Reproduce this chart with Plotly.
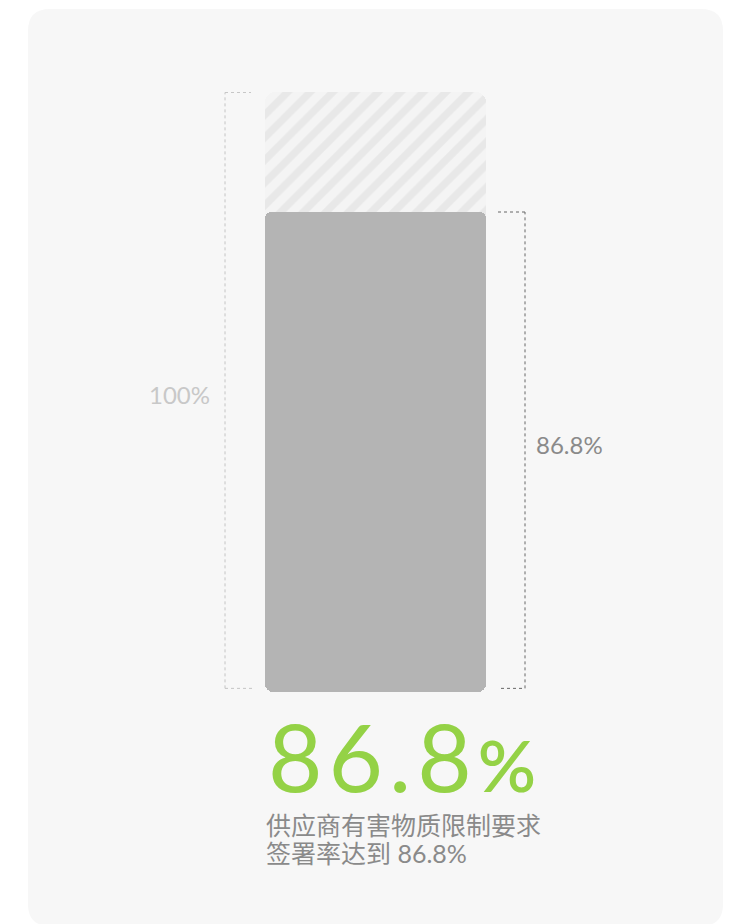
import plotly.graph_objects as go

# ---- data ----
categories = ["签署率"]
total_values = [100.0]
actual_values = [86.8]
axis_min = 34.0          # visual baseline of the (truncated) value axis
axis_max = 100.0
total_label = "100%"
actual_label = "86.8%"
big_number = "86.8"
caption_lines = ["供应商有害物质限制要求", "签署率达到 86.8%"]

W, H = 734, 924
ML, MR, MT, MB = 265, 248, 92, 232
PW, PH = W - ML - MR, H - MT - MB

def px(x):
    return (x - ML) / PW

def py(y):
    return (H - MB - y) / PH

LATIN = "Lato, 'Noto Sans CJK SC', sans-serif"
CJK = "Lato, 'Noto Sans CJK SC', sans-serif"

fig = go.Figure()

# hatched "100%" bar
fig.add_trace(go.Bar(
    x=categories, y=[v - axis_min for v in total_values], base=[axis_min],
    marker=dict(color="#f4f4f4", cornerradius=10, line=dict(width=0),
                pattern=dict(shape="/", size=16, solidity=0.45,
                             fgcolor="#e8e8e8", bgcolor="#f4f4f4", fillmode="replace")),
    hoverinfo="skip", showlegend=False))

# solid bar, drawn as two overlapping halves so both ends get rounded corners
overlap = 3.0
mid = [(axis_min + v) / 2 for v in actual_values]
fig.add_trace(go.Bar(
    x=categories, y=[v - (m - overlap) for v, m in zip(actual_values, mid)],
    base=[m - overlap for m in mid],
    marker=dict(color="#b4b4b4", cornerradius=6, line=dict(width=0)),
    hoverinfo="skip", showlegend=False))
fig.add_trace(go.Bar(
    x=categories, y=[axis_min - (m + overlap) for m in mid],
    base=[m + overlap for m in mid],
    marker=dict(color="#b4b4b4", cornerradius=8, line=dict(width=0)),
    hoverinfo="skip", showlegend=False))

shapes = []
# panel background (rounded rect)
x0, x1, y0, y1, r = 28, 723, 9, 926, 22
path = (f"M {px(x0+r)},{py(y0)} L {px(x1-r)},{py(y0)} Q {px(x1)},{py(y0)} {px(x1)},{py(y0+r)} "
        f"L {px(x1)},{py(y1-r)} Q {px(x1)},{py(y1)} {px(x1-r)},{py(y1)} "
        f"L {px(x0+r)},{py(y1)} Q {px(x0)},{py(y1)} {px(x0)},{py(y1-r)} "
        f"L {px(x0)},{py(y0+r)} Q {px(x0)},{py(y0)} {px(x0+r)},{py(y0)} Z")
shapes.append(dict(type="path", path=path, xref="paper", yref="paper",
                   fillcolor="#f7f7f7", line=dict(width=0), layer="below"))

# left bracket (100%)
lc = dict(color="#c4c4c4", width=1, dash="dot")
lx, lx2 = px(225), px(251)
top = total_values[0] - 0.05
shapes += [
    dict(type="line", xref="paper", yref="y", x0=lx, x1=lx, y0=axis_min + 0.4, y1=top, line=lc),
    dict(type="line", xref="paper", yref="y", x0=lx, x1=lx2, y0=top, y1=top, line=lc),
    dict(type="line", xref="paper", yref="y", x0=lx, x1=px(254), y0=axis_min + 0.4, y1=axis_min + 0.4, line=lc),
]
# right bracket (86.8%)
rc = dict(color="#666666", width=1, dash="dot")
rx, rx2 = px(525), px(498)
shapes += [
    dict(type="line", xref="paper", yref="y", x0=rx, x1=rx, y0=axis_min + 0.4, y1=actual_values[0], line=rc),
    dict(type="line", xref="paper", yref="y", x0=rx2, x1=rx, y0=actual_values[0], y1=actual_values[0], line=rc),
    dict(type="line", xref="paper", yref="y", x0=px(501), x1=rx, y0=axis_min + 0.4, y1=axis_min + 0.4, line=rc),
]

annotations = [
    dict(text=total_label, xref="paper", yref="y", x=px(179), y=(axis_min + total_values[0]) / 2 - 0.3,
         xanchor="center", yanchor="middle", showarrow=False,
         font=dict(family=LATIN, size=24, color="#c8c8c8")),
    dict(text=actual_label, xref="paper", yref="y", x=px(534), y=(axis_min + actual_values[0]) / 2 + 0.8,
         xanchor="left", yanchor="middle", showarrow=False,
         font=dict(family=LATIN, size=24, color="#8a8a8a")),
    dict(text="<span style='letter-spacing:6px'>" + big_number + "</span>"
              "<span style='font-size:72px;font-weight:600'>%</span>",
         xref="paper", yref="paper",
         x=px(266), y=py(755), xanchor="left", yanchor="middle", showarrow=False,
         font=dict(family=LATIN, size=94, color="#94d246", weight=400)),
    dict(text=caption_lines[0], xref="paper", yref="paper", x=px(264), y=py(825),
         xanchor="left", yanchor="middle", showarrow=False,
         font=dict(family=CJK, size=25, color="#8a8a8a")),
    dict(text=caption_lines[1], xref="paper", yref="paper", x=px(264), y=py(853),
         xanchor="left", yanchor="middle", showarrow=False,
         font=dict(family=CJK, size=25, color="#8a8a8a")),
]

fig.update_layout(
    width=W, height=H, margin=dict(l=ML, r=MR, t=MT, b=MB, pad=0),
    paper_bgcolor="#ffffff", plot_bgcolor="rgba(0,0,0,0)",
    barmode="overlay", bargap=0, showlegend=False,
    xaxis=dict(visible=False, fixedrange=True),
    yaxis=dict(visible=False, range=[axis_min, axis_max], fixedrange=True),
    shapes=shapes, annotations=annotations,
)

fig.write_html("out.html", config={"displayModeBar": False})
